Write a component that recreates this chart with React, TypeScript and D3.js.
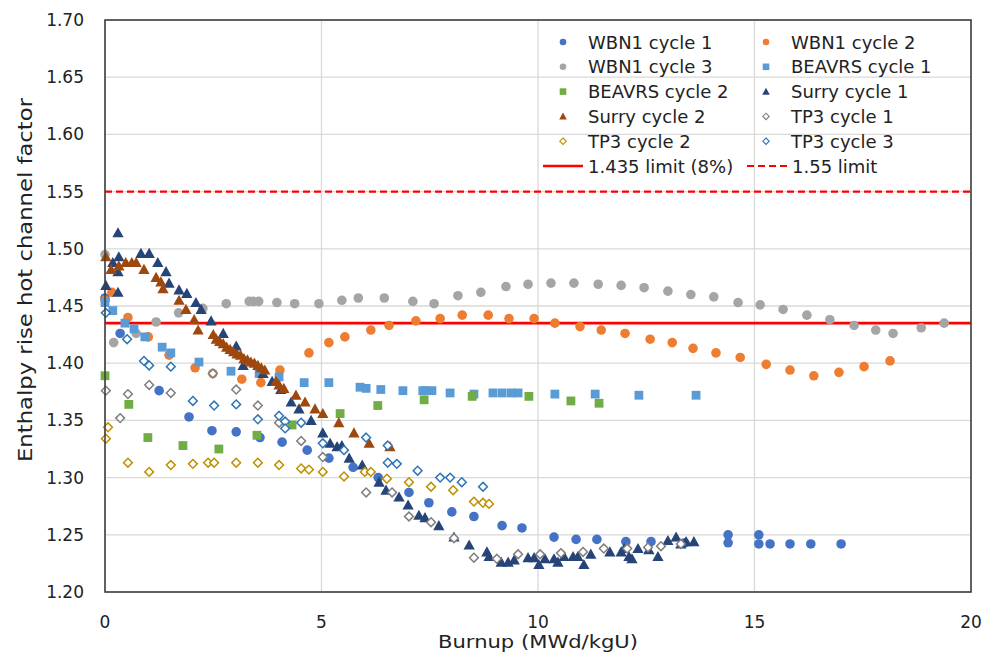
import React from "react";
import * as d3 from "d3";

const W = 998;
const H = 657;
const M = { top: 20, right: 27, bottom: 65, left: 105 };

const xTicks = [0, 5, 10, 15, 20];
const yTicks = [1.2, 1.25, 1.3, 1.35, 1.4, 1.45, 1.5, 1.55, 1.6, 1.65, 1.7];

const limitSolid = 1.435;
const limitDashed = 1.55;

// [burnup, factor]
const wbn1c1 = [
  [0, 1.457], [0.35, 1.426], [1.25, 1.376], [1.94, 1.353], [2.47, 1.341], [3.03, 1.34],
  [3.58, 1.335], [4.09, 1.331], [4.67, 1.324], [5.17, 1.317], [5.73, 1.309], [6.31, 1.3],
  [7.02, 1.287], [7.48, 1.278], [8.01, 1.27], [8.52, 1.266], [9.17, 1.258], [9.63, 1.256],
  [10.37, 1.248], [10.88, 1.246], [11.36, 1.246], [12.03, 1.244], [12.61, 1.244], [13.39, 1.243],
  [14.39, 1.25], [14.39, 1.243], [15.1, 1.25], [15.1, 1.242], [15.36, 1.242], [15.82, 1.242],
  [16.3, 1.242], [17.0, 1.242],
];
const wbn1c2 = [
  [0, 1.455], [0.16, 1.462], [0.53, 1.44], [1.0, 1.423], [1.48, 1.407], [2.08, 1.396],
  [2.49, 1.391], [3.16, 1.386], [3.6, 1.383], [4.04, 1.394], [4.71, 1.409], [5.17, 1.418],
  [5.54, 1.423], [6.14, 1.429], [6.56, 1.433], [7.18, 1.437], [7.74, 1.439], [8.25, 1.442],
  [8.85, 1.442], [9.33, 1.439], [9.91, 1.439], [10.39, 1.435], [10.97, 1.432], [11.46, 1.429],
  [12.01, 1.426], [12.59, 1.421], [13.1, 1.418], [13.58, 1.413], [14.11, 1.409], [14.67, 1.405],
  [15.27, 1.399], [15.82, 1.394], [16.37, 1.389], [16.95, 1.392], [17.53, 1.397], [18.13, 1.402],
];
const wbn1c3 = [
  [0, 1.495], [0.2, 1.418], [0.72, 1.426], [1.18, 1.436], [1.7, 1.444], [2.26, 1.448],
  [2.8, 1.452], [3.33, 1.454], [3.43, 1.454], [3.55, 1.454], [3.97, 1.453], [4.38, 1.452],
  [4.94, 1.452], [5.47, 1.455], [5.85, 1.457], [6.45, 1.457], [7.11, 1.454], [7.6, 1.452],
  [8.15, 1.459], [8.68, 1.462], [9.26, 1.467], [9.77, 1.469], [10.3, 1.47], [10.83, 1.47],
  [11.39, 1.469], [11.92, 1.468], [12.45, 1.466], [13.0, 1.463], [13.53, 1.46], [14.06, 1.458],
  [14.62, 1.453], [15.13, 1.451], [15.66, 1.447], [16.21, 1.442], [16.74, 1.438], [17.3, 1.433],
  [17.8, 1.429], [18.2, 1.426], [18.85, 1.431], [19.38, 1.435],
];
const beavrsc1 = [
  [0, 1.453], [0.18, 1.446], [0.46, 1.435], [0.67, 1.43], [0.92, 1.423], [1.32, 1.414],
  [1.52, 1.409], [2.17, 1.401], [2.91, 1.393], [3.56, 1.391], [4.02, 1.388], [4.6, 1.383],
  [5.17, 1.383], [5.89, 1.379], [6.03, 1.378], [6.37, 1.377], [6.88, 1.376], [7.34, 1.376],
  [7.41, 1.376], [7.55, 1.376], [7.97, 1.374], [8.52, 1.373], [8.96, 1.374], [9.17, 1.374],
  [9.38, 1.374], [9.54, 1.374], [10.39, 1.373], [11.32, 1.373], [12.33, 1.372], [13.65, 1.372],
];
const beavrsc2 = [
  [0, 1.389], [0.55, 1.364], [0.99, 1.335], [1.8, 1.328], [2.63, 1.325], [3.51, 1.337],
  [4.32, 1.346], [5.43, 1.356], [6.3, 1.363], [7.37, 1.368], [8.48, 1.371], [9.79, 1.371],
  [10.76, 1.367], [11.41, 1.365],
];
const surryc1 = [
  [0.02, 1.468], [0.3, 1.514], [0.3, 1.462], [0.18, 1.488], [0.32, 1.493], [0.3, 1.48],
  [0.83, 1.496], [1.02, 1.496], [1.22, 1.488], [1.41, 1.48], [1.48, 1.47], [1.71, 1.464],
  [1.89, 1.461], [2.1, 1.453], [2.22, 1.447], [2.45, 1.437], [2.73, 1.426], [3.03, 1.415],
  [3.19, 1.398], [3.65, 1.391], [3.86, 1.384], [4.06, 1.377], [4.3, 1.366], [4.48, 1.36],
  [4.76, 1.35], [5.03, 1.339], [5.2, 1.33], [5.36, 1.327], [5.47, 1.328], [5.64, 1.317],
  [5.94, 1.311], [6.33, 1.296], [6.49, 1.289], [6.79, 1.283], [7.0, 1.276], [7.25, 1.267],
  [7.39, 1.265], [7.71, 1.258], [8.06, 1.248], [8.41, 1.241], [8.82, 1.235], [8.87, 1.231],
  [9.15, 1.226], [9.31, 1.226], [9.45, 1.228], [9.77, 1.23], [9.91, 1.23], [10.02, 1.224],
  [10.16, 1.229], [10.37, 1.229], [10.46, 1.226], [10.6, 1.231], [10.81, 1.231], [10.92, 1.231],
  [11.06, 1.224], [11.22, 1.233], [11.66, 1.235], [11.92, 1.235], [11.99, 1.238], [12.1, 1.231],
  [12.17, 1.229], [12.31, 1.238], [12.56, 1.237], [12.77, 1.231], [13.0, 1.245], [13.19, 1.248],
  [13.3, 1.242], [13.42, 1.244], [13.6, 1.244],
];
const surryc2 = [
  [0.02, 1.493], [0.14, 1.482], [0.32, 1.485], [0.48, 1.488], [0.62, 1.488], [0.72, 1.488],
  [0.9, 1.482], [1.18, 1.475], [1.29, 1.471], [1.34, 1.465], [1.71, 1.455], [1.87, 1.447],
  [2.06, 1.438], [2.15, 1.429], [2.5, 1.425], [2.57, 1.421], [2.65, 1.419], [2.73, 1.417],
  [2.81, 1.414], [2.89, 1.412], [2.97, 1.41], [3.05, 1.408], [3.13, 1.407], [3.21, 1.404],
  [3.29, 1.403], [3.37, 1.401], [3.45, 1.4], [3.53, 1.398], [3.61, 1.396], [3.69, 1.394],
  [3.95, 1.384], [4.02, 1.381], [4.13, 1.378], [4.41, 1.372], [4.62, 1.366], [4.85, 1.36],
  [5.03, 1.356], [5.4, 1.348], [5.75, 1.339], [6.1, 1.33], [6.58, 1.327],
];
const tp3c1 = [
  [0.02, 1.376], [0.35, 1.352], [0.53, 1.373], [1.02, 1.381], [1.52, 1.374], [2.49, 1.391],
  [3.03, 1.377], [3.53, 1.363], [4.02, 1.348], [4.53, 1.332], [5.03, 1.318], [6.03, 1.287],
  [6.63, 1.287], [7.02, 1.266], [7.53, 1.261], [8.06, 1.247], [8.52, 1.23], [9.05, 1.229],
  [9.54, 1.233], [10.05, 1.233], [10.53, 1.234], [11.04, 1.235], [11.52, 1.238], [12.06, 1.238],
  [12.54, 1.239], [12.84, 1.24], [13.3, 1.242],
];
const tp3c2 = [
  [0.07, 1.344], [0.02, 1.334], [0.53, 1.313], [1.02, 1.305], [1.52, 1.311], [2.03, 1.312],
  [2.38, 1.313], [2.52, 1.313], [3.03, 1.313], [3.53, 1.313], [4.02, 1.311], [4.53, 1.308],
  [4.71, 1.307], [5.03, 1.305], [5.52, 1.301], [6.0, 1.305], [6.14, 1.305], [6.51, 1.299],
  [7.02, 1.296], [7.53, 1.292], [8.04, 1.289], [8.52, 1.279], [8.73, 1.278], [8.87, 1.277],
];
const tp3c3 = [
  [0.02, 1.444], [0.51, 1.421], [0.9, 1.402], [1.02, 1.398], [1.52, 1.397], [2.03, 1.367],
  [2.52, 1.363], [3.03, 1.364], [3.53, 1.351], [4.02, 1.354], [4.16, 1.349], [4.16, 1.343],
  [4.53, 1.348], [5.03, 1.33], [5.52, 1.324], [6.03, 1.335], [6.53, 1.328], [6.53, 1.313],
  [6.74, 1.312], [7.22, 1.306], [7.74, 1.3], [7.97, 1.3], [8.24, 1.296], [8.73, 1.292],
];

const series = [
  { name: "WBN1 cycle 1", data: wbn1c1, shape: "circle", color: "#4472C4" },
  { name: "WBN1 cycle 2", data: wbn1c2, shape: "circle", color: "#ED7D31" },
  { name: "WBN1 cycle 3", data: wbn1c3, shape: "circle", color: "#A5A5A5" },
  { name: "BEAVRS cycle 1", data: beavrsc1, shape: "square", color: "#5B9BD5" },
  { name: "BEAVRS cycle 2", data: beavrsc2, shape: "square", color: "#70AD47" },
  { name: "Surry cycle 1", data: surryc1, shape: "triangle", color: "#264478" },
  { name: "Surry cycle 2", data: surryc2, shape: "triangle", color: "#9E480E" },
  { name: "TP3 cycle 1", data: tp3c1, shape: "diamond", color: "#7F7F7F" },
  { name: "TP3 cycle 2", data: tp3c2, shape: "diamond", color: "#BF9000" },
  { name: "TP3 cycle 3", data: tp3c3, shape: "diamond", color: "#2E75B6" },
];

const FONT = "'DejaVu Sans', sans-serif";

function Marker({ shape, color, cx, cy, s }: any) {
  if (shape === "circle") return <circle cx={cx} cy={cy} r={s} fill={color} />;
  if (shape === "square")
    return <rect x={cx - s} y={cy - s} width={2 * s} height={2 * s} fill={color} />;
  if (shape === "triangle") {
    const h = s * 1.15;
    return (
      <path
        d={`M${cx},${cy - h}L${cx + h},${cy + h * 0.8}L${cx - h},${cy + h * 0.8}Z`}
        fill={color}
      />
    );
  }
  return (
    <path
      d={`M${cx},${cy - s}L${cx + s},${cy}L${cx},${cy + s}L${cx - s},${cy}Z`}
      fill="#fff"
      stroke={color}
      strokeWidth={s > 3.5 ? 1.5 : 1.1}
    />
  );
}

export default function App() {
  const x = d3.scaleLinear().domain([0, 20]).range([M.left, W - M.right]);
  const y = d3.scaleLinear().domain([1.2, 1.7]).range([H - M.bottom, M.top]);
  const sizes: any = { circle: 4.8, square: 4.4, triangle: 4.9, diamond: 4.4 };

  const legendRows = [0, 1, 2, 3, 4, 5].map((i) => 42 + i * 24.8);
  const legendCols = [563, 766];

  return (
    <svg
      width={W}
      height={H}
      style={{ position: "absolute", left: 0, top: 0, background: "#fff" }}
      fontFamily={FONT}
    >
      <rect width={W} height={H} fill="#fff" />
      {yTicks.map((t) => (
        <line key={"gy" + t} x1={x(0)} x2={x(20)} y1={y(t)} y2={y(t)} stroke="#D9D9D9" strokeWidth={1.3} />
      ))}
      {xTicks.map((t) => (
        <line key={"gx" + t} x1={x(t)} x2={x(t)} y1={y(1.2)} y2={y(1.7)} stroke="#D9D9D9" strokeWidth={1.3} />
      ))}
      <line x1={x(0)} x2={x(20)} y1={y(limitSolid)} y2={y(limitSolid)} stroke="#FF0000" strokeWidth={2.6} />
      <line
        x1={x(0)}
        x2={x(20)}
        y1={y(limitDashed)}
        y2={y(limitDashed)}
        stroke="#FF0000"
        strokeWidth={2.2}
        strokeDasharray="7,4"
      />
      {series.map((s) => (
        <g key={s.name}>
          {s.data.map((d, i) => (
            <Marker key={i} shape={s.shape} color={s.color} cx={x(d[0])} cy={y(d[1])} s={sizes[s.shape]} />
          ))}
        </g>
      ))}
      <rect
        x={x(0)}
        y={y(1.7)}
        width={x(20) - x(0)}
        height={y(1.2) - y(1.7)}
        fill="none"
        stroke="#404040"
        strokeWidth={1.6}
      />
      {yTicks.map((t) => (
        <text key={"ty" + t} x={84} y={y(t) + 6} textAnchor="end" fontSize={17} fill="#222">
          {d3.format(".2f")(t)}
        </text>
      ))}
      {xTicks.map((t) => (
        <text key={"tx" + t} x={x(t)} y={628} textAnchor="middle" fontSize={17} fill="#222">
          {t}
        </text>
      ))}
      <text x={x(10)} y={648} textAnchor="middle" fontSize={18} fill="#222" textLength={200} lengthAdjust="spacingAndGlyphs">
        Burnup (MWd/kgU)
      </text>
      <text
        transform={`translate(32,${280}) rotate(-90)`}
        textAnchor="middle"
        fontSize={19}
        fill="#222"
        textLength={364}
        lengthAdjust="spacingAndGlyphs"
      >
        Enthalpy rise hot channel factor
      </text>
      {series.map((s, i) => {
        const cx = legendCols[i % 2];
        const cy = legendRows[Math.floor(i / 2)];
        return (
          <g key={"lg" + s.name}>
            <Marker shape={s.shape} color={s.color} cx={cx} cy={cy} s={s.shape === "diamond" ? 3.2 : 3.3} />
            <text x={cx + 25} y={cy + 6.5} fontSize={18} fill="#222">
              {s.name}
            </text>
          </g>
        );
      })}
      <line x1={543} x2={583} y1={legendRows[5]} y2={legendRows[5]} stroke="#FF0000" strokeWidth={2.6} />
      <text x={588} y={legendRows[5] + 6.5} fontSize={18} fill="#222">
        1.435 limit (8%)
      </text>
      <line
        x1={747}
        x2={788}
        y1={legendRows[5]}
        y2={legendRows[5]}
        stroke="#FF0000"
        strokeWidth={2.2}
        strokeDasharray="7,4"
      />
      <text x={792} y={legendRows[5] + 6.5} fontSize={18} fill="#222">
        1.55 limit
      </text>
    </svg>
  );
}
